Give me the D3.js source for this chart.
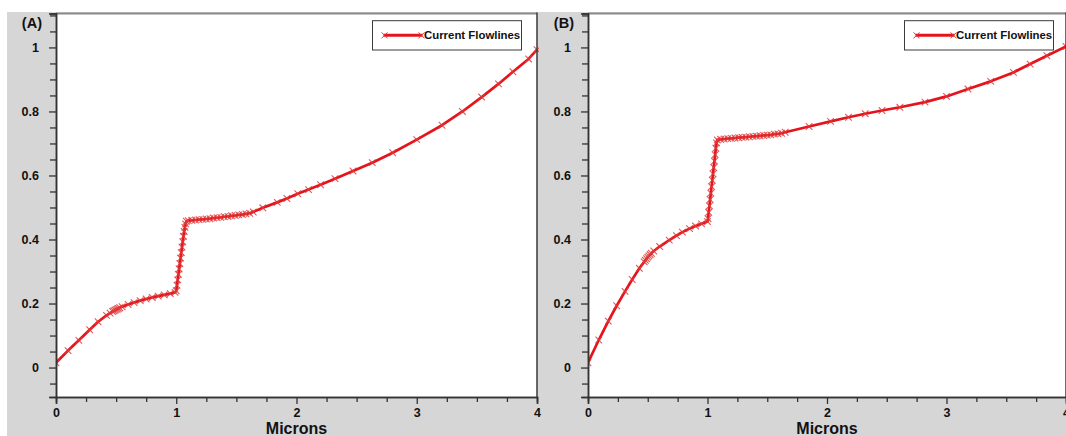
<!DOCTYPE html>
<html>
<head>
<meta charset="utf-8">
<script src="https://cdn.jsdelivr.net/npm/d3@7/dist/d3.min.js"></script>
<style>
  html, body { margin: 0; padding: 0; background: #ffffff; }
  svg { display: block; }
  text { font-family: "Liberation Sans", Arial, sans-serif; font-weight: bold; fill: #111; }
</style>
</head>
<body>
<svg id="chart" width="1066" height="436"></svg>
<script>
// ---- Data -------------------------------------------------------------
// Panel (A): normalised current along the flowlines vs. distance (microns)
const micronsA = [
  0.00, 0.10, 0.19, 0.28, 0.35, 0.42,
  0.45, 0.47, 0.48, 0.49, 0.50, 0.51, 0.52, 0.53, 0.55,
  0.60, 0.65, 0.70, 0.75, 0.80, 0.85, 0.90, 0.95, 0.99,
  1.000, 1.006, 1.012, 1.018, 1.024, 1.030, 1.036, 1.042, 1.048, 1.054, 1.060, 1.066, 1.072, 1.078, 1.084,
  1.10, 1.13, 1.16, 1.19, 1.22, 1.25, 1.28, 1.31, 1.34, 1.37, 1.40, 1.43, 1.46, 1.49, 1.52, 1.55, 1.58, 1.61, 1.64,
  1.72, 1.84, 1.92, 2.01, 2.10, 2.20, 2.32, 2.47, 2.63, 2.80, 3.00, 3.21, 3.38, 3.54, 3.68, 3.80, 3.93, 4.00
];
const flowA = [
  0.015, 0.053, 0.085, 0.118, 0.143, 0.163,
  0.170, 0.175, 0.177, 0.179, 0.181, 0.183, 0.185, 0.187, 0.190,
  0.197, 0.203, 0.209, 0.214, 0.219, 0.223, 0.227, 0.231, 0.235,
  0.240, 0.257, 0.274, 0.291, 0.308, 0.325, 0.342, 0.359, 0.376, 0.393, 0.410, 0.425, 0.438, 0.449, 0.457,
  0.459, 0.460, 0.461, 0.462, 0.463, 0.464, 0.465, 0.467, 0.468, 0.469, 0.471, 0.472, 0.474, 0.475, 0.477, 0.478, 0.480, 0.482, 0.486,
  0.499, 0.516, 0.528, 0.543, 0.556, 0.571, 0.590, 0.614, 0.640, 0.671, 0.712, 0.757, 0.800, 0.845, 0.886, 0.924, 0.964, 0.993
];

// Panel (B)
const micronsB = [
  0.00, 0.09, 0.17, 0.24, 0.31, 0.37, 0.43,
  0.47, 0.48, 0.49, 0.50, 0.51, 0.52, 0.53, 0.55,
  0.60, 0.68, 0.74, 0.79, 0.85, 0.90, 0.95, 1.00,
  1.004, 1.010, 1.016, 1.022, 1.028, 1.034, 1.040, 1.046, 1.052, 1.058, 1.064, 1.070, 1.076, 1.082,
  1.11, 1.14, 1.17, 1.20, 1.23, 1.26, 1.29, 1.32, 1.35, 1.38, 1.41, 1.44, 1.47, 1.50, 1.53, 1.56, 1.59, 1.62, 1.65,
  1.85, 2.03, 2.18, 2.32, 2.46, 2.61, 2.82, 3.00, 3.18, 3.37, 3.56, 3.70, 3.84, 4.00
];
const flowB = [
  0.015, 0.086, 0.145, 0.193, 0.238, 0.275, 0.310,
  0.330, 0.335, 0.340, 0.345, 0.349, 0.353, 0.357, 0.364,
  0.378, 0.398, 0.412, 0.423, 0.434, 0.442, 0.449, 0.456,
  0.465, 0.485, 0.505, 0.525, 0.545, 0.565, 0.585, 0.605, 0.625, 0.645, 0.665, 0.685, 0.702, 0.711,
  0.713, 0.714, 0.715, 0.716, 0.717, 0.718, 0.719, 0.720, 0.721, 0.722, 0.723, 0.724, 0.725, 0.726, 0.727, 0.729, 0.730, 0.732, 0.735,
  0.753, 0.769, 0.782, 0.793, 0.803, 0.813, 0.829, 0.847, 0.870, 0.894, 0.922, 0.948, 0.974, 1.003
];

const xMajorTicks = [0, 1, 2, 3, 4];
const xMinorTicks = [0.25, 0.5, 0.75, 1.25, 1.5, 1.75, 2.25, 2.5, 2.75, 3.25, 3.5, 3.75];
const yMajorTicks = [0, 0.2, 0.4, 0.6, 0.8, 1];
const yMinorTicks = [-0.05, 0.05, 0.1, 0.15, 0.25, 0.3, 0.35, 0.45, 0.5, 0.55, 0.65, 0.7, 0.75, 0.85, 0.9, 0.95, 1.05, 1.1];
const panelLabels = ["(A)", "(B)"];
const seriesName = "Current Flowlines";
const xTitle = "Microns";

// ---- Layout -----------------------------------------------------------
const W = 1066, H = 436;
const RED = "#e5141c";
const plotTop = 13.5, plotBottom = 397;
const panels = [
  { label: panelLabels[0], x: micronsA, y: flowA, left: 56, right: 537 },
  { label: panelLabels[1], x: micronsB, y: flowB, left: 588, right: 1066 }
];

const svg = d3.select("#chart");

// grey page backdrop behind both panels
svg.append("rect").attr("x", 7).attr("y", 12).attr("width", W - 7).attr("height", H - 12)
  .attr("fill", "#d6d6d6");

const defs = svg.append("defs");

function crossPath(cx, cy, r) {
  return `M${cx - r},${cy - r}L${cx + r},${cy + r}M${cx - r},${cy + r}L${cx + r},${cy - r}`;
}

panels.forEach((p, i) => {
  const x = d3.scaleLinear().domain([0, 4]).range([p.left, p.right]);
  const y = d3.scaleLinear().domain([-0.092, 1.106]).range([plotBottom, plotTop]);

  const g = svg.append("g");

  // plot area
  g.append("rect").attr("x", p.left).attr("y", plotTop)
    .attr("width", p.right - p.left).attr("height", plotBottom - plotTop)
    .attr("fill", "#ffffff");

  const clipId = "clip" + i;
  defs.append("clipPath").attr("id", clipId).append("rect")
    .attr("x", p.left).attr("y", plotTop)
    .attr("width", p.right - p.left + 2).attr("height", plotBottom - plotTop);

  // series
  const pts = p.x.map((v, k) => [v, p.y[k]]);
  const line = d3.line().x(d => x(d[0])).y(d => y(d[1]));
  const series = g.append("g").attr("clip-path", `url(#${clipId})`);
  series.append("path").datum(pts)
    .attr("d", line).attr("fill", "none")
    .attr("stroke", RED).attr("stroke-width", 2.7)
    .attr("stroke-linejoin", "round");
  series.append("g").selectAll("path").data(pts).join("path")
    .attr("d", d => crossPath(x(d[0]), y(d[1]), 3.3))
    .attr("stroke", "#e03a3a").attr("stroke-width", 1.1).attr("opacity", 0.85)
    .attr("fill", "none");

  // frame: top (grey) and right edges
  g.append("line").attr("x1", p.left).attr("x2", p.right)
    .attr("y1", plotTop).attr("y2", plotTop)
    .attr("stroke", "#8a8a8a").attr("stroke-width", 2);
  g.append("line").attr("x1", p.right).attr("x2", p.right)
    .attr("y1", plotTop - 1).attr("y2", plotBottom)
    .attr("stroke", "#3a3a3a").attr("stroke-width", 1.5);

  // y axis
  const yMinor = g.append("g").attr("transform", `translate(${p.left},0)`)
    .call(d3.axisLeft(y).tickValues(yMinorTicks).tickSize(6).tickFormat(""));
  const yMajor = g.append("g").attr("transform", `translate(${p.left},0)`)
    .call(d3.axisLeft(y).tickValues(yMajorTicks).tickSize(7).tickPadding(10)
      .tickFormat(d3.format("~g")));
  [yMinor, yMajor].forEach(a => {
    a.select(".domain").attr("stroke", "#333").attr("stroke-width", 1.5);
    a.selectAll(".tick line").attr("stroke", "#333").attr("stroke-width", 1.3);
  });
  yMajor.selectAll(".tick text").attr("font-size", 12.5)
    .attr("font-family", "Liberation Sans, Arial, sans-serif").attr("font-weight", "bold").attr("fill", "#111");

  // x axis
  const xMinor = g.append("g").attr("transform", `translate(0,${plotBottom})`)
    .call(d3.axisBottom(x).tickValues(xMinorTicks).tickSize(5).tickFormat(""));
  const xMajor = g.append("g").attr("transform", `translate(0,${plotBottom})`)
    .call(d3.axisBottom(x).tickValues(xMajorTicks).tickSize(7).tickPadding(4)
      .tickFormat(d3.format("d")));
  [xMinor, xMajor].forEach(a => {
    a.select(".domain").attr("stroke", "#333").attr("stroke-width", 1.5);
    a.selectAll(".tick line").attr("stroke", "#333").attr("stroke-width", 1.3);
  });
  xMajor.selectAll(".tick text").attr("font-size", 12.5)
    .attr("font-family", "Liberation Sans, Arial, sans-serif").attr("font-weight", "bold").attr("fill", "#111");

  // axis title
  g.append("text").attr("x", x(2)).attr("y", 433.5)
    .attr("text-anchor", "middle").attr("font-size", 16).text(xTitle);

  // panel tag
  g.append("text").attr("x", p.left - 14).attr("y", 27.5)
    .attr("text-anchor", "end").attr("font-size", 14.5).text(p.label);

  // legend
  const bx = p.left + 316.5, by = 20.7, bw = 149, bh = 29.3;
  const lg = g.append("g");
  lg.append("rect").attr("x", bx).attr("y", by).attr("width", bw).attr("height", bh)
    .attr("fill", "#ffffff").attr("stroke", "#3a3a3a").attr("stroke-width", 1);
  const ly = by + bh / 2;
  lg.append("line").attr("x1", bx + 11).attr("x2", bx + 50).attr("y1", ly).attr("y2", ly)
    .attr("stroke", RED).attr("stroke-width", 3);
  [bx + 12, bx + 49].forEach(cx => {
    lg.append("path").attr("d", crossPath(cx, ly, 3))
      .attr("stroke", "#e03a3a").attr("stroke-width", 1).attr("fill", "none");
  });
  lg.append("text").attr("x", bx + 51.5).attr("y", ly).attr("dy", "0.36em")
    .attr("font-size", 11.4).text(seriesName);
});
</script>
</body>
</html>
